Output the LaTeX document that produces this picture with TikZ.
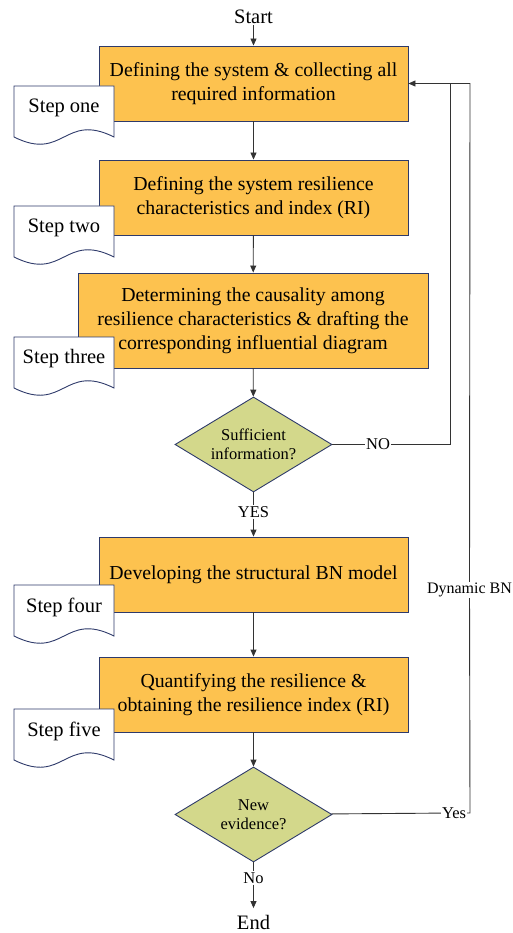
\documentclass[tikz,border=0pt]{standalone}
\usepackage{fontspec}
\setmainfont{Liberation Serif}
\usetikzlibrary{shapes.geometric,arrows.meta}
\definecolor{boxfill}{HTML}{FDC24F}
\definecolor{dfill}{HTML}{D3D88B}
\definecolor{edgec}{HTML}{2E3A6A}
\definecolor{linec}{HTML}{333333}
\tikzset{
 procbox/.style={draw=edgec, fill=boxfill, line width=0.9pt, minimum width=309pt, minimum height=75pt, align=center, font=\fontsize{19.8}{23.8}\selectfont, inner sep=0pt},
 decision/.style={diamond, draw=edgec, fill=dfill, line width=0.9pt, minimum width=157pt, minimum height=95pt, aspect=1.65, inner sep=0pt, align=center, font=\fontsize{16.5}{19}\selectfont},
 conn/.style={draw=linec, line width=0.9pt},
 arr/.style={conn, -{Triangle[length=7pt,width=6pt]}},
 lbl/.style={font=\fontsize{16.5}{18}\selectfont, inner sep=1pt},
 term/.style={font=\fontsize{20.5}{22}\selectfont, inner sep=1pt},
 docshape/.style={draw=edgec, fill=white, line width=0.9pt},
 doctext/.style={font=\fontsize{20.5}{22}\selectfont, inner sep=0pt},
}
\newcommand\stepdoc[3]{%
 \path[docshape] (14,#2-22) -- (114,#2-22) -- (114,#2+29) .. controls (64,#2+4) and (64,#2+54) .. (14,#2+29) -- cycle;
 \node[doctext] (#1) at (64,#2) {#3};}
\begin{document}
\begin{tikzpicture}[x=1pt,y=-1pt]
\useasboundingbox (0,0) rectangle (512,933);
\node[term] (start) at (253.5,17) {Start};
\node[procbox] (b1) at (253.5,83.5) {Defining the system \& collecting all\\required information};
\node[procbox] (b2) at (253.5,197.5) {Defining the system resilience\\characteristics and index (RI)};
\node[procbox, minimum width=350pt, minimum height=95pt] (b3) at (253,320.5) {Determining the causality among\\resilience characteristics \& drafting the\\corresponding influential diagram};
\node[decision] (d1) at (253.5,444.5) {Sufficient\\information?};
\node[lbl] (yes1) at (253.5,512) {YES};
\node[procbox] (b4) at (253.5,574.5) {Developing the structural BN model};
\node[procbox] (b5) at (253.5,694.5) {Quantifying the resilience \&\\obtaining the resilience index (RI)};
\node[decision] (d2) at (253.5,814.5) {New\\evidence?};
\node[lbl] (no2) at (253.5,878) {No};
\node[term] (end) at (253.5,922.5) {End};
\node[lbl] (no1) at (378,444.5) {NO};
\node[lbl] (yes2) at (454,813) {Yes};
\node[lbl, font=\fontsize{16}{18}\selectfont] (dyn) at (469.5,590) {Dynamic BN};
\stepdoc{s1}{108}{Step one}
\stepdoc{s2}{228}{Step two}
\stepdoc{s3}{359}{Step three}
\stepdoc{s4}{607}{Step four}
\stepdoc{s5}{731}{Step five}
\coordinate (k1) at (450,444.5);
\coordinate (k2) at (470,813);
\coordinate (k3) at (470,83.5);
\draw[arr] (start) -- (b1);
\draw[arr] (b1) -- (b2);
\draw[arr] (b2) -- (b3);
\draw[arr] (b3) -- (d1);
\draw[arr] (d1) -- (yes1) -- (b4);
\draw[arr] (b4) -- (b5);
\draw[arr] (b5) -- (d2);
\draw[arr, shorten >=6pt] (d2) -- (no2) -- (end);
\draw[arr] (d1) -- (no1) -- (k1) |- (b1.east);
\draw[conn] (d2) -- (yes2) -- (k2) -- (dyn) -- (k3) -- (b1.east);
\end{tikzpicture}
\end{document}
